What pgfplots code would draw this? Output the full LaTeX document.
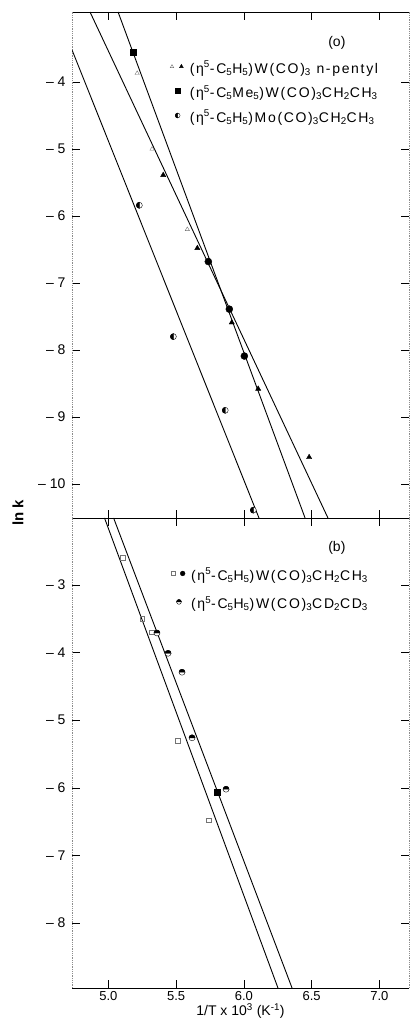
\documentclass[border=0pt]{standalone}
\usepackage{fontspec}
\setmainfont{Liberation Sans}
\newfontfamily\legfont[LetterSpace=12]{Liberation Sans}
\usepackage{pgfplots}
\pgfplotsset{compat=1.18}
\usetikzlibrary{plotmarks}

% half filled circles as in the scan
\pgfdeclareplotmark{halfup}{%
  \pgfpathcircle{\pgfpointorigin}{\pgfplotmarksize}
  \pgfsetfillcolor{white}\pgfusepathqfillstroke
  \pgfpathmoveto{\pgfqpoint{\pgfplotmarksize}{0pt}}
  \pgfpatharc{0}{180}{\pgfplotmarksize}
  \pgfpathclose
  \pgfsetfillcolor{black}\pgfusepathqfillstroke}
\pgfdeclareplotmark{halfleft}{%
  \pgfpathcircle{\pgfpointorigin}{\pgfplotmarksize}
  \pgfsetfillcolor{white}\pgfusepathqfillstroke
  \pgfpathmoveto{\pgfqpoint{0pt}{\pgfplotmarksize}}
  \pgfpatharc{90}{270}{\pgfplotmarksize}
  \pgfpathclose
  \pgfsetfillcolor{black}\pgfusepathqfillstroke}

\pgfplotsset{
  kin/.style={
    scale only axis, width=337pt,
    xmin=4.732, xmax=7.219,
    tick align=inside, xtick pos=both, ytick pos=both,
    major tick length=8pt,
    tick style={black, line width=0.6pt},
    x axis line style={black, line width=0.9pt},
    y axis line style={black!45, densely dotted, line width=0.8pt},
    separate axis lines,
    xtick={5,5.5,6,6.5,7},
    yticklabel style={font=\fontsize{14}{14}\selectfont, xshift=-3pt},
    xticklabel style={font=\fontsize{13}{13}\selectfont},
    clip=true,
    legend style={draw=none, fill=none, inner sep=0pt,
      font=\legfont\fontsize{14}{16}\selectfont,
      legend cell align=left},
  },
  fit/.style={black, line width=0.9pt, forget plot},
}

\begin{document}
\begin{tikzpicture}
\useasboundingbox (0,0) rectangle (410pt,1027pt);

% panel (a)
\begin{axis}[kin, name=a, at={(72pt,509pt)}, anchor=south west,
    height=506pt, ymin=-10.507, ymax=-2.955,
    ytick={-10,-9,-8,-7,-6,-5,-4},
    yticklabels={–\;10,–\;9,–\;8,–\;7,–\;6,–\;5,–\;4},
    xticklabels={},
    legend style={at={(rel axis cs:0.291,0.907)}, anchor=north west, row sep=7pt}]

  \addlegendimage{legend image code/.code={
      \draw[black!55, mark=triangle, mark size=2pt] plot coordinates {(0cm,0.05cm)};
      \draw[black, mark=triangle*, mark size=2.2pt] plot coordinates {(0.33cm,0.05cm)};
      \path (0.55cm,0cm);}}
  \addlegendentry{(η\textsuperscript{5}-C\textsubscript{5}H\textsubscript{5})W(CO)\textsubscript{3} n-pentyl}
  \addlegendimage{legend image code/.code={
      \path (0cm,0cm);
      \draw[black, fill=black, mark=square*, mark size=2.4pt] plot coordinates {(0.2cm,0.05cm)};
      \path (0.55cm,0cm);}}
  \addlegendentry{(η\textsuperscript{5}-C\textsubscript{5}Me\textsubscript{5})W(CO)\textsubscript{3}CH\textsubscript{2}CH\textsubscript{3}}
  \addlegendimage{legend image code/.code={
      \path (0cm,0cm);
      \draw[black, mark=halfleft, mark size=2.4pt] plot coordinates {(0.2cm,0.05cm)};
      \path (0.55cm,0cm);}}
  \addlegendentry{(η\textsuperscript{5}-C\textsubscript{5}H\textsubscript{5})Mo(CO)\textsubscript{3}CH\textsubscript{2}CH\textsubscript{3}}

  % fitted lines
  \addplot[fit] coordinates {(4.732,-3.52) (6.112,-10.507)};
  \addplot[fit] coordinates {(4.865,-2.955) (6.621,-10.507)};
  \addplot[fit] coordinates {(5.072,-2.955) (6.452,-10.507)};

  % W n-pentyl, open
  \addplot[only marks, forget plot, black!55, mark=triangle, mark size=2.5pt]
    coordinates {(5.213,-3.87) (5.323,-5.00) (5.583,-6.20)};
  % W n-pentyl, filled
  \addplot[only marks, forget plot, black, mark=triangle*, mark size=3pt]
    coordinates {(5.405,-5.39) (5.657,-6.48) (5.911,-7.59) (6.106,-8.58) (6.482,-9.60)};
  % C5Me5 W ethyl
  \addplot[only marks, forget plot, black, mark=square*, mark size=3pt]
    coordinates {(5.182,-3.55)};
  \addplot[only marks, forget plot, black, mark=*, mark size=3.5pt]
    coordinates {(5.738,-6.68) (5.893,-7.39) (6.004,-8.09)};
  % Mo ethyl
  \addplot[only marks, forget plot, black, mark=halfleft, mark size=3pt]
    coordinates {(5.229,-5.84) (5.480,-7.80) (5.863,-8.90) (6.070,-10.39)};

  \node[font=\fontsize{14}{14}\selectfont] at (rel axis cs:0.786,0.939) {(o)};
\end{axis}

% panel (b)
\begin{axis}[kin, name=b, at={(72pt,39pt)}, anchor=south west,
    height=470pt, ymin=-8.96, ymax=-2.009,
    ytick={-8,-7,-6,-5,-4,-3},
    yticklabels={–\;8,–\;7,–\;6,–\;5,–\;4,–\;3},
    xticklabels={5.0,5.5,6.0,6.5,7.0},
    xlabel={1/T x 10\textsuperscript{3} (K\textsuperscript{-1})},
    xlabel style={font=\fontsize{14}{14}\selectfont, yshift=4pt},
    legend style={at={(rel axis cs:0.294,0.898)}, anchor=north west, row sep=11pt}]

  \addlegendimage{legend image code/.code={
      \draw[black!55, mark=square, mark size=2pt] plot coordinates {(0cm,0.05cm)};
      \draw[black, fill=black, mark=*, mark size=2.4pt] plot coordinates {(0.33cm,0.05cm)};
      \path (0.55cm,0cm);}}
  \addlegendentry{(η\textsuperscript{5}-C\textsubscript{5}H\textsubscript{5})W(CO)\textsubscript{3}CH\textsubscript{2}CH\textsubscript{3}}
  \addlegendimage{legend image code/.code={
      \path (0cm,0cm);
      \draw[black, mark=halfup, mark size=2.4pt] plot coordinates {(0.2cm,0.05cm)};
      \path (0.55cm,0cm);}}
  \addlegendentry{(η\textsuperscript{5}-C\textsubscript{5}H\textsubscript{5})W(CO)\textsubscript{3}CD\textsubscript{2}CD\textsubscript{3}}

  \addplot[fit] coordinates {(4.972,-2.009) (6.252,-8.96)};
  \addplot[fit] coordinates {(5.039,-2.009) (6.356,-8.96)};

  % W ethyl, open
  \addplot[only marks, forget plot, black!55, mark=square, mark size=2.3pt]
    coordinates {(5.108,-2.60) (5.249,-3.50) (5.322,-3.70) (5.514,-5.30) (5.743,-6.48)};
  % W ethyl, filled
  \addplot[only marks, forget plot, black, mark=square*, mark size=3pt]
    coordinates {(5.802,-6.06)};
  % W CD2CD3
  \addplot[only marks, forget plot, black, mark=halfup, mark size=3pt]
    coordinates {(5.359,-3.71) (5.441,-4.01) (5.544,-4.29) (5.618,-5.26) (5.869,-6.02)};

  \node[font=\fontsize{14}{14}\selectfont] at (rel axis cs:0.786,0.936) {(b)};
\end{axis}

\node[rotate=90, font=\bfseries\fontsize{15}{15}\selectfont] at (18pt,514pt) {ln k};
\end{tikzpicture}
\end{document}
